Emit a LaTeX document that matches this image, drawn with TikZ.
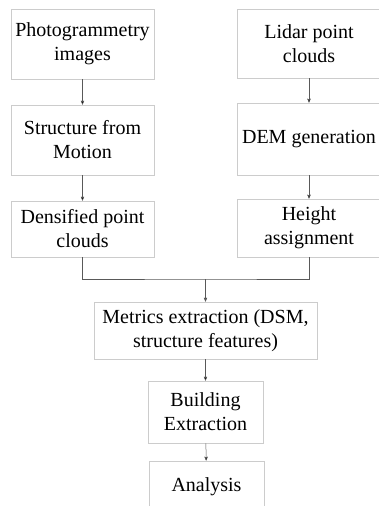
\documentclass[tikz,border=0pt]{standalone}
\usepackage{fontspec}
\setmainfont{Liberation Serif}
\usetikzlibrary{arrows}

\begin{document}
\begin{tikzpicture}[x=1pt,y=-1pt,>=stealth',
  font=\rmfamily\fontsize{20}{24}\selectfont,
  box/.style={draw=gray!40,line width=0.9pt,align=center,inner sep=0pt,minimum width=143pt},
  link/.style={draw=black!65,line width=0.5pt}]
  \useasboundingbox (0,0) rectangle (379,506);
  \clip (0,0) rectangle (379,506);
  % left column
  \node[box, minimum height=70pt] (photo)  at (82.5,44)   {Photogrammetry\\images};
  \node[box, minimum height=70pt] (sfm)    at (82.5,140)  {Structure from\\Motion};
  \node[box, minimum height=56pt] (dense)  at (82.5,229)  {Densified point\\clouds};
  % right column
  \node[box, minimum height=69pt] (lidar)  at (309,43.5)  {Lidar point\\clouds};
  \node[box, minimum height=72pt] (dem)    at (309,139)   {DEM generation};
  \node[box, minimum height=58pt] (height) at (309,228)   {Height\\assignment};
  % merged part
  \node[box, minimum width=223pt, minimum height=57pt] (metrics)  at (205.5,330.5) {Metrics extraction (DSM,\\structure features)};
  \node[box, minimum width=115pt, minimum height=62pt] (building) at (205.5,412)   {Building\\Extraction};
  \node[box, minimum width=115pt, minimum height=52pt] (analysis) at (206.5,487)   {Analysis};
  \coordinate (join) at (205.5,279);

  \path[link,->]
        (photo)  edge (sfm)
        (sfm)    edge (dense)
        (lidar)  edge (dem)
        (dem)    edge (height)
        (metrics)  edge (building)
        (building) edge (analysis);
  \draw[link] (dense.south) |- (join) -| (height.south);
  \draw[link,->] (join) -- (metrics.north);
\end{tikzpicture}
\end{document}
